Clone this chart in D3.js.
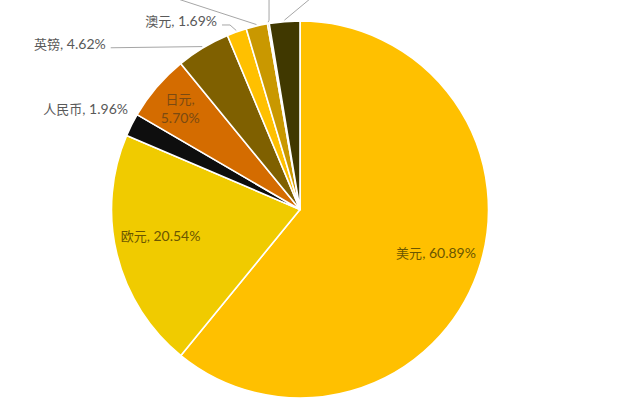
<!DOCTYPE html>
<html>
<head>
<meta charset="utf-8">
<script src="https://cdn.jsdelivr.net/npm/d3@7"></script>
<style>
  html, body { margin: 0; padding: 0; background: #fff; }
  svg { display: block; }
</style>
</head>
<body>
<svg id="chart" width="640" height="415"></svg>
<script>
// ---- data ----
const categories = ['美元', '欧元', '人民币', '日元', '英镑', '澳元', '加元', '瑞士法郎', '其他'];
const shares = [60.89, 20.54, 1.96, 5.70, 4.62, 1.69, 1.84, 0.15, 2.61];

// ---- styling / layout (not data) ----
const palette = ['#FFC000', '#F0CB00', '#0E0E0E', '#D46C00', '#7F6000', '#FFC000', '#C99800', '#8C7000', '#403800'];
const W = 640, H = 415;
const cx = 300, cy = 209.5, R = 188.5;

// label placement relative to each slice's mid angle (degrees) and radius (px)
// offFrame: the label sits above the visible frame (cropped in the reference); only its leader line shows
const labelLayout = {
  '美元':   { da: -2.25, r: 142.5, anchor: 'middle', inside: true, fill: '#6B5600' },
  '欧元':   { da: 3.4,   r: 141.8, anchor: 'middle', inside: true, fill: '#6B5600' },
  '人民币': { da: 3.85,  r: 199.7, anchor: 'end',    leader: false },
  '日元':   { da: 0,     r: 157.5, anchor: 'middle', inside: true, twoLine: true, fill: '#7A4A12' },
  '英镑':   { da: -18.4, r: 256,   anchor: 'end',    leader: true },
  '澳元':   { da: -4.05, r: 206.9, anchor: 'end',    leader: true, elbow: true },
  '加元':   { da: -23.9, r: 290,   anchor: 'end',    leader: true, offFrame: true },
  '瑞士法郎': { da: 2.3, r: 241.5, anchor: 'middle', leader: true, vertical: true, offFrame: true },
  '其他':   { da: 12.6,  r: 233.7, anchor: 'start',  leader: true, offFrame: true }
};

const data = categories.map((c, i) => ({ cat: c, value: shares[i] }));
const color = d3.scaleOrdinal(categories, palette);

const svg = d3.select('#chart');
const g = svg.append('g').attr('transform', `translate(${cx},${cy})`);

const pie = d3.pie().sort(null).value(d => d.value).startAngle(0).endAngle(2 * Math.PI);
const arcs = pie(data);
const arc = d3.arc().innerRadius(0).outerRadius(R);

g.selectAll('path.slice')
  .data(arcs)
  .join('path')
  .attr('class', 'slice')
  .attr('d', arc)
  .attr('fill', d => color(d.data.cat))
  .attr('stroke', '#fff')
  .attr('stroke-width', 1.6)
  .attr('stroke-linejoin', 'round');

const polar = (angDeg, r) => {
  const a = angDeg * Math.PI / 180;
  return [Math.sin(a) * r, -Math.cos(a) * r];
};
const mid = d => ((d.startAngle + d.endAngle) / 2) * 180 / Math.PI;
const fmt = v => v.toFixed(2) + '%';

const fontLatin = 'Lato, "Noto Sans CJK SC", sans-serif';
const fontCJK = '"Noto Sans CJK SC", sans-serif';

// leader lines
arcs.forEach(d => {
  const L = labelLayout[d.data.cat];
  if (!L || !L.leader) return;
  const [lx, ly] = polar(mid(d) + L.da, L.r);
  const [ex, ey] = polar(mid(d), R + 1.5);
  let sx, sy;
  if (L.vertical) { sx = lx; sy = ly + 8; }
  else if (L.anchor === 'end') { sx = lx + 5; sy = ly + 5; }
  else { sx = lx - 3; sy = ly + 5; }
  const pts = L.vertical ? [[sx, sy], [sx, ey - 2], [ex, ey]] :
    L.elbow ? [[sx, sy], [sx + 8, sy], [ex, ey]] : [[sx, sy], [ex, ey]];
  g.append('path')
    .attr('d', d3.line()(pts))
    .attr('fill', 'none')
    .attr('stroke', '#A6A6A6')
    .attr('stroke-width', 1);
});

// labels
arcs.forEach(d => {
  const L = labelLayout[d.data.cat];
  if (!L || L.offFrame) return;
  const [lx, ly] = polar(mid(d) + L.da, L.r);
  const fill = L.fill || '#595959';
  const t = g.append('text')
    .attr('x', lx)
    .attr('y', ly)
    .attr('text-anchor', L.anchor)
    .attr('dominant-baseline', 'central')
    .attr('fill', fill)
    .style('font-family', fontLatin)
    .style('font-size', '14px');
  if (L.twoLine) {
    const t1 = t.append('tspan').attr('x', lx).attr('dy', '-0.68em');
    t1.append('tspan').style('font-family', fontCJK).style('font-size', '13px').text(d.data.cat);
    t1.append('tspan').text(',');
    t.append('tspan').attr('x', lx).attr('dy', '1.4em').text(fmt(d.data.value));
  } else {
    t.append('tspan').style('font-family', fontCJK).style('font-size', '13px').text(d.data.cat);
    t.append('tspan').text(', ' + fmt(d.data.value));
  }
});
</script>
</body>
</html>
